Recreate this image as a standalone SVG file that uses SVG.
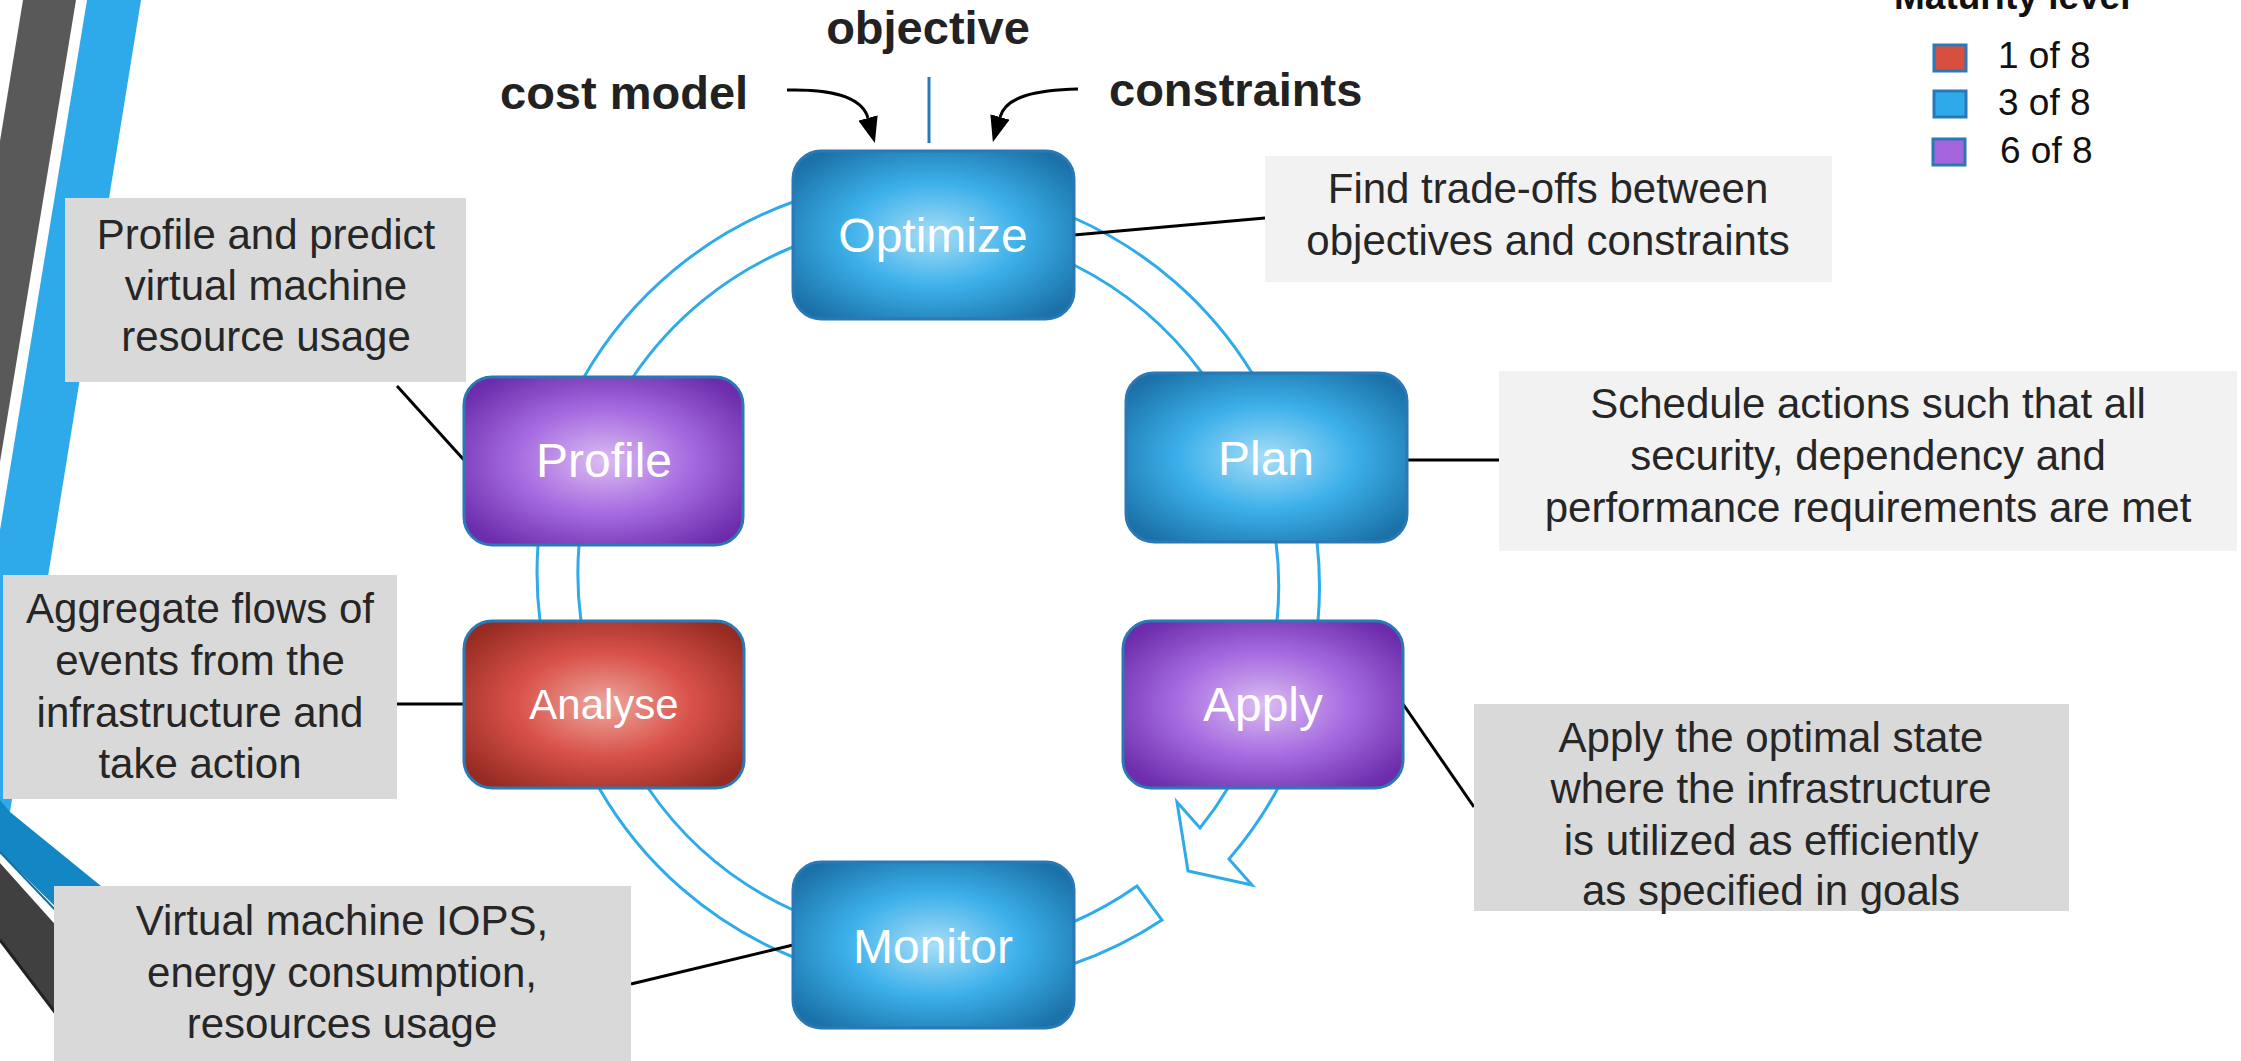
<svg xmlns="http://www.w3.org/2000/svg" width="2241" height="1061" viewBox="0 0 2241 1061">
<defs>
  <style>
    .node-box { stroke: #2a78b5; stroke-width: 3; }
    .node-label { font-family: "Liberation Sans", Arial, sans-serif; font-size: 48px; fill: #ffffff; text-anchor: middle; }
    .callout-text { font-family: "Liberation Sans", Arial, sans-serif; font-size: 42px; fill: #262626; text-anchor: middle; }
    .callout-gray { fill: #d9d9d9; }
    .callout-light { fill: #f2f2f2; }
    .input-label { font-family: "Liberation Sans", Arial, sans-serif; font-size: 47px; font-weight: bold; fill: #222222; }
    .connector { stroke: #000000; stroke-width: 3; fill: none; }
    .ring { stroke: #2fabe9; stroke-width: 3; fill: none; stroke-linejoin: miter; }
    .legend-text { font-family: "Liberation Sans", Arial, sans-serif; font-size: 37px; fill: #111111; }
    .legend-swatch { stroke: #2a78b5; stroke-width: 3; }
  </style>
  <radialGradient id="gBlue" cx="0.5" cy="0.5" r="0.62">
    <stop offset="0" stop-color="#a9def7"/>
    <stop offset="0.5" stop-color="#3cb0ea"/>
    <stop offset="1" stop-color="#1b72a8"/>
  </radialGradient>
  <radialGradient id="gPurple" cx="0.5" cy="0.5" r="0.62">
    <stop offset="0" stop-color="#dcbdf2"/>
    <stop offset="0.5" stop-color="#a66be0"/>
    <stop offset="1" stop-color="#6c2cab"/>
  </radialGradient>
  <radialGradient id="gRed" cx="0.5" cy="0.5" r="0.62">
    <stop offset="0" stop-color="#eca99f"/>
    <stop offset="0.5" stop-color="#d9524a"/>
    <stop offset="1" stop-color="#962b22"/>
  </radialGradient>
  <marker id="ah" viewBox="0 0 26 20" refX="0" refY="10" markerWidth="26" markerHeight="20" markerUnits="userSpaceOnUse" orient="auto">
    <path d="M0,0 L26,10 L0,20 z" fill="#000000"/>
  </marker>
</defs>

<rect x="0" y="0" width="2241" height="1061" fill="#ffffff"/>

<!-- decorative strips -->
<g id="decoration">
  <polygon points="23,0 76,0 0,462 0,141" fill="#595959"/>
  <polygon points="87,0 141,0 10,812 0,812 0,530" fill="#2eaaea"/>
  <polygon points="0,800 10,812 160,934 160,1010 0,852" fill="#1387c4"/>
  <line x1="0" y1="852" x2="60" y2="915" stroke="#0d6fa5" stroke-width="2"/>
  <polygon points="0,863 200,1086 200,1200 0,940" fill="#404040"/>
  <line x1="0" y1="940" x2="60" y2="1019" stroke="#222222" stroke-width="3"/>
</g>

<!-- ring arrow -->
<g id="cycle-ring">
  <path class="ring" d="M 1162 920
    A 395 395 0 0 1 1073 964
    A 395 395 0 0 1 793 957
    A 395 395 0 0 1 599 788
    A 395 395 0 0 1 540 621
    A 395 395 0 0 1 538 545
    A 395 395 0 0 1 584 377
    A 395 395 0 0 1 793 202
    A 395 395 0 0 1 1074 218
    A 395 395 0 0 1 1252 373
    A 395 395 0 0 1 1317 542
    A 395 395 0 0 1 1318 621
    A 395 395 0 0 1 1278 788
    A 395 395 0 0 1 1229 859
    L 1252 885
    L 1188 871
    L 1177 802
    L 1200 828
    A 355 355 0 0 0 1228 788
    A 355 355 0 0 0 1277 621
    A 355 355 0 0 0 1276 542
    A 355 355 0 0 0 1202 373
    A 355 355 0 0 0 1074 265
    A 355 355 0 0 0 793 247
    A 355 355 0 0 0 633 377
    A 355 355 0 0 0 579 545
    A 355 355 0 0 0 581 621
    A 355 355 0 0 0 648 788
    A 355 355 0 0 0 793 910
    A 355 355 0 0 0 1073 922
    A 355 355 0 0 0 1137 886 Z"/>
</g>

<!-- connectors -->
<g id="connectors">
  <line class="connector" x1="1074" y1="235" x2="1265" y2="218"/>
  <line class="connector" x1="1407" y1="460" x2="1499" y2="460"/>
  <line class="connector" x1="397" y1="386" x2="464" y2="460"/>
  <line class="connector" x1="464" y1="704" x2="397" y2="704"/>
  <line class="connector" x1="793" y1="945" x2="631" y2="984"/>
  <line class="connector" x1="1403" y1="704" x2="1474" y2="807"/>
  <path class="connector" d="M 787 90 C 828 89, 862 96, 868 118" marker-end="url(#ah)"/>
  <path class="connector" d="M 1078 89 C 1037 90, 1006 96, 1000 117" marker-end="url(#ah)"/>
  <line x1="929" y1="77" x2="929" y2="143" stroke="#2a78b5" stroke-width="3"/>
</g>

<!-- input labels -->
<g id="inputs">
  <text class="input-label" x="500" y="109">cost model</text>
  <text class="input-label" x="928" y="44" text-anchor="middle">objective</text>
  <text class="input-label" x="1109" y="106">constraints</text>
</g>

<!-- callouts -->
<g id="callout-profile">
  <rect class="callout-gray" x="65" y="198" width="401" height="184"/>
  <text class="callout-text" x="266" y="249">Profile and predict</text>
  <text class="callout-text" x="266" y="300">virtual machine</text>
  <text class="callout-text" x="266" y="351">resource usage</text>
</g>
<g id="callout-analyse">
  <rect class="callout-gray" x="3" y="575" width="394" height="224"/>
  <text class="callout-text" x="200" y="623">Aggregate flows of</text>
  <text class="callout-text" x="200" y="675">events from the</text>
  <text class="callout-text" x="200" y="727">infrastructure and</text>
  <text class="callout-text" x="200" y="778">take action</text>
</g>
<g id="callout-monitor">
  <rect class="callout-gray" x="54" y="886" width="577" height="180"/>
  <text class="callout-text" x="342" y="935">Virtual machine IOPS,</text>
  <text class="callout-text" x="342" y="987">energy consumption,</text>
  <text class="callout-text" x="342" y="1038">resources usage</text>
</g>
<g id="callout-optimize">
  <rect class="callout-light" x="1265" y="156" width="567" height="126"/>
  <text class="callout-text" x="1548" y="203">Find trade-offs between</text>
  <text class="callout-text" x="1548" y="255">objectives and constraints</text>
</g>
<g id="callout-plan">
  <rect class="callout-light" x="1499" y="371" width="738" height="180"/>
  <text class="callout-text" x="1868" y="418">Schedule actions such that all</text>
  <text class="callout-text" x="1868" y="470">security, dependency and</text>
  <text class="callout-text" x="1868" y="522">performance requirements are met</text>
</g>
<g id="callout-apply">
  <rect class="callout-gray" x="1474" y="704" width="595" height="207"/>
  <text class="callout-text" x="1771" y="752">Apply the optimal state</text>
  <text class="callout-text" x="1771" y="803">where the infrastructure</text>
  <text class="callout-text" x="1771" y="855">is utilized as efficiently</text>
  <text class="callout-text" x="1771" y="905">as specified in goals</text>
</g>

<!-- nodes -->
<g id="node-optimize">
  <rect class="node-box" x="793" y="151" width="281" height="168" rx="28" fill="url(#gBlue)"/>
  <text class="node-label" x="933" y="252">Optimize</text>
</g>
<g id="node-plan">
  <rect class="node-box" x="1126" y="373" width="281" height="169" rx="28" fill="url(#gBlue)"/>
  <text class="node-label" x="1266" y="475">Plan</text>
</g>
<g id="node-profile">
  <rect class="node-box" x="464" y="377" width="279" height="168" rx="28" fill="url(#gPurple)"/>
  <text class="node-label" x="604" y="477">Profile</text>
</g>
<g id="node-analyse">
  <rect class="node-box" x="464" y="621" width="280" height="167" rx="28" fill="url(#gRed)"/>
  <text class="node-label" x="604" y="719" style="font-size:42px">Analyse</text>
</g>
<g id="node-apply">
  <rect class="node-box" x="1123" y="621" width="280" height="167" rx="28" fill="url(#gPurple)"/>
  <text class="node-label" x="1263" y="721">Apply</text>
</g>
<g id="node-monitor">
  <rect class="node-box" x="793" y="862" width="281" height="166" rx="28" fill="url(#gBlue)"/>
  <text class="node-label" x="933" y="963">Monitor</text>
</g>

<!-- legend -->
<g id="legend">
  <text x="1894" y="9" style="font-family:'Liberation Sans', Arial, sans-serif; font-size:37px; font-weight:bold; fill:#111111">Maturity level</text>
  <rect class="legend-swatch" x="1934" y="45" width="32" height="26" fill="#d94f3f"/>
  <text class="legend-text" x="1998" y="68">1 of 8</text>
  <rect class="legend-swatch" x="1934" y="91" width="32" height="26" fill="#2eaaea"/>
  <text class="legend-text" x="1998" y="115">3 of 8</text>
  <rect class="legend-swatch" x="1933" y="139" width="32" height="26" fill="#a566dd"/>
  <text class="legend-text" x="2000" y="163">6 of 8</text>
</g>
</svg>
